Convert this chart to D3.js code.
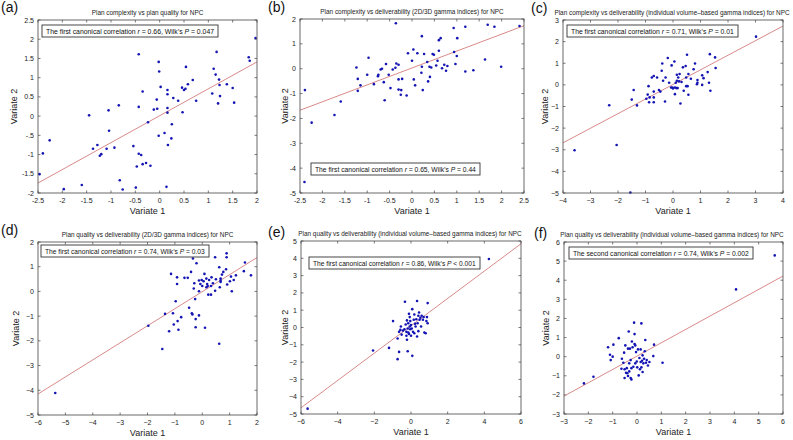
<!DOCTYPE html>
<html>
<head>
<meta charset="utf-8">
<script src="https://cdn.jsdelivr.net/npm/d3@7"></script>
<style>
body { margin: 0; background: #fff; }
svg { display: block; font-family: "Liberation Sans", Arial, sans-serif; }
.tick-label { font-size: 7px; fill: #222; }
.ttl { font-size: 6.4px; fill: #222; }
.axlab { font-size: 9px; fill: #222; }
.plab { font-size: 14px; fill: #111; }
.note { font-size: 6.8px; fill: #111; }
</style>
</head>
<body>
<svg id="chart" width="793" height="440"></svg>
<script>
// (a) plan complexity vs plan quality
var aX = [-2.47,-2.40,-2.26,-1.97,-1.60,-1.45,-1.37,-1.28,-1.23,-1.20,-1.09,-1.05,-1.04,-0.93,-0.84,-0.82,-0.76,-0.54,-0.49,-0.47,-0.43,-0.43,-0.43,-0.38,-0.35,-0.35,-0.28,-0.24,-0.19,-0.12,-0.06,-0.05,-0.02,-0.02,-0.01,0.02,0.10,0.14,0.16,0.16,0.16,0.16,0.17,0.24,0.25,0.28,0.38,0.46,0.47,0.50,0.53,0.54,0.58,0.68,0.75,1.08,1.11,1.15,1.17,1.20,1.22,1.23,1.24,1.38,1.50,1.53,1.83,1.85,1.97];
var aY = [-1.51,-0.97,-0.63,-1.90,-1.79,0.02,-0.85,-0.75,-1.03,-0.99,-0.85,0.15,-0.38,-0.82,0.28,-1.67,-1.91,-0.78,-1.86,-1.31,1.61,0.24,-0.98,-1.01,0.64,-1.25,-1.22,-0.16,-1.29,0.17,0.43,0.19,1.41,-0.51,1.16,0.76,-0.44,-1.84,0.68,0.57,0.21,0.09,-0.75,-0.58,-0.21,0.47,0.40,0.74,0.10,0.68,0.71,1.28,0.83,0.94,0.40,0.59,1.23,1.08,1.67,0.33,0.95,0.81,0.52,0.83,0.73,0.35,1.53,1.44,2.03];

// (b) plan complexity vs deliverability (2D/3D gamma)
var bX = [-2.39,-2.40,-2.24,-1.73,-1.59,-1.24,-1.21,-1.21,-1.15,-1.00,-0.97,-0.85,-0.76,-0.75,-0.70,-0.67,-0.63,-0.61,-0.58,-0.52,-0.48,-0.43,-0.37,-0.36,-0.35,-0.30,-0.30,-0.30,-0.25,-0.24,-0.22,-0.12,-0.09,0.00,0.03,0.04,0.07,0.12,0.21,0.22,0.22,0.24,0.27,0.34,0.36,0.39,0.40,0.43,0.46,0.49,0.54,0.57,0.60,0.60,0.64,0.67,0.72,0.76,0.79,0.93,0.94,0.97,1.00,1.01,1.19,1.19,1.37,1.63,1.69,1.84,1.99,2.40];
var bY = [-0.86,-4.56,-2.17,-1.86,-1.32,0.05,-0.41,-0.89,-0.67,-0.24,0.44,-0.62,-0.30,-0.24,-0.03,0.00,-0.54,-1.27,0.19,-0.24,-0.78,-0.03,0.04,1.83,0.21,0.16,-0.43,-0.84,-1.05,-0.86,-0.41,-1.08,0.62,0.32,0.77,-0.43,-0.67,0.62,-0.16,1.31,0.08,-0.86,0.59,0.27,-0.51,0.08,-0.33,0.05,0.59,0.56,0.13,0.32,0.72,1.15,1.23,0.02,0.16,-0.08,0.11,1.64,0.67,0.19,0.51,1.23,1.69,-0.11,-0.06,0.37,1.77,1.69,0.08,1.72];

// (c) plan complexity vs deliverability (volume-based gamma)
var cX = [-3.58,-2.32,-2.05,-1.55,-1.50,-1.43,-1.31,-0.97,-0.92,-0.89,-0.87,-0.85,-0.77,-0.70,-0.70,-0.70,-0.70,-0.58,-0.51,-0.46,-0.41,-0.39,-0.36,-0.29,-0.27,-0.19,-0.14,-0.07,-0.05,-0.02,0.00,0.05,0.07,0.07,0.10,0.12,0.14,0.14,0.17,0.19,0.22,0.24,0.27,0.31,0.36,0.39,0.46,0.48,0.48,0.51,0.53,0.56,0.56,0.65,0.75,0.80,0.87,0.89,0.89,1.06,1.06,1.11,1.26,1.31,1.34,1.36,1.53,1.55,3.02];
var cY = [-3.02,-0.94,-2.78,-4.98,-0.68,-0.24,-0.95,-0.64,-0.45,-0.06,-0.80,-0.58,0.34,0.41,-0.31,-0.58,-0.80,0.34,-0.24,-0.31,0.65,0.99,0.19,-0.77,0.34,1.24,0.10,-0.12,0.90,-0.12,-0.17,1.08,-0.12,-0.43,0.10,-0.15,0.47,0.19,-0.15,0.34,0.16,0.50,-0.86,0.13,0.81,-0.27,0.87,0.34,-0.06,1.39,-0.06,-0.46,0.50,0.28,0.72,0.99,0.03,0.22,0.10,0.44,0.00,0.31,0.59,0.10,1.42,-0.27,1.27,0.78,2.23];

// (d) plan quality vs deliverability (2D/3D gamma)
var dX = [-5.37,-1.97,-1.46,-1.36,-1.21,-1.14,-1.07,-1.04,-0.97,-0.92,-0.92,-0.90,-0.87,-0.77,-0.65,-0.53,-0.48,-0.41,-0.38,-0.36,-0.34,-0.31,-0.29,-0.26,-0.24,-0.24,-0.21,-0.12,-0.12,-0.12,-0.07,-0.02,0.00,0.05,0.08,0.10,0.15,0.15,0.18,0.20,0.22,0.25,0.32,0.32,0.34,0.39,0.47,0.47,0.50,0.62,0.62,0.64,0.67,0.67,0.67,0.72,0.77,0.87,0.89,0.89,0.91,1.01,1.05,1.08,1.15,1.23,1.52,1.56,1.78];
var dY = [-4.11,-1.39,-2.33,-0.91,-1.61,0.71,-0.88,-1.34,-0.40,0.57,0.30,-1.20,-1.55,-1.04,0.55,0.55,-0.66,0.79,-0.88,-0.93,1.33,0.12,0.33,-0.31,-1.12,-1.45,1.14,-0.97,0.01,0.44,0.30,0.46,0.22,0.41,0.71,-1.47,0.52,0.17,0.30,0.22,-0.13,0.46,-0.13,0.22,0.57,0.33,1.38,0.03,0.49,-2.12,0.98,0.17,0.52,0.44,0.38,0.68,0.79,0.90,1.38,1.54,0.28,0.41,0.60,0.01,0.46,0.65,0.82,1.17,0.65];

// (e) plan quality vs deliverability (volume-based gamma)
var eX = [-5.64,-2.07,-1.20,-0.98,-0.73,-0.73,-0.65,-0.65,-0.58,-0.55,-0.51,-0.44,-0.36,-0.33,-0.29,-0.25,-0.25,-0.22,-0.22,-0.18,-0.18,-0.15,-0.15,-0.11,-0.11,-0.07,-0.07,-0.04,-0.04,0.00,0.00,0.04,0.07,0.07,0.11,0.15,0.18,0.18,0.22,0.25,0.29,0.33,0.33,0.36,0.40,0.40,0.44,0.47,0.51,0.55,0.58,0.65,0.69,0.73,0.80,0.84,0.87,0.91,0.91,4.25];
var eY = [-4.69,-1.33,-1.18,0.37,-0.64,-1.83,-1.41,-0.25,-0.14,0.06,-0.41,-0.18,-0.10,1.49,0.17,-0.25,-0.48,0.41,-0.71,-1.37,-0.06,0.25,-0.29,0.79,-0.37,0.60,0.06,0.37,-0.10,0.14,-0.48,-0.06,-1.64,1.06,-0.25,0.45,0.75,-0.33,0.21,0.06,0.48,1.53,-0.52,0.25,0.68,-0.21,0.87,0.45,0.56,0.06,0.68,0.45,0.60,-0.29,-0.33,0.37,0.60,1.41,0.25,3.96];

// (f) plan quality vs deliverability, second canonical variate
var fX = [-2.18,-1.79,-1.19,-1.11,-1.08,-1.00,-0.97,-0.75,-0.64,-0.62,-0.56,-0.53,-0.51,-0.51,-0.48,-0.45,-0.42,-0.40,-0.37,-0.37,-0.34,-0.32,-0.32,-0.29,-0.26,-0.26,-0.23,-0.23,-0.21,-0.18,-0.15,-0.12,-0.10,-0.10,-0.07,-0.07,-0.04,-0.01,0.01,0.04,0.07,0.10,0.12,0.15,0.15,0.18,0.18,0.21,0.23,0.23,0.26,0.29,0.32,0.34,0.37,0.40,0.45,0.51,0.67,0.70,1.05,4.07,5.66];
var fY = [-1.40,-1.05,0.49,0.10,-0.18,0.00,0.63,0.97,-0.63,-0.11,-0.32,0.21,-0.66,-1.12,0.59,-0.84,-0.60,-0.87,0.42,-1.01,1.32,-0.35,-0.77,0.42,-0.18,-1.12,-0.60,-1.19,0.79,0.49,-0.53,1.78,1.18,0.66,0.59,-0.35,0.24,-0.25,-0.56,0.38,-0.98,-0.07,-0.66,0.38,-0.28,1.74,-0.56,-0.21,-0.80,0.07,-0.35,-0.11,0.28,0.87,-0.32,-0.18,-0.46,-0.28,0.03,0.63,-0.32,3.52,5.30];

// fitted lines (slope, intercept) per panel
var fitSlope = [0.70, 0.68, 0.675, 0.69, 0.79, 0.698];
var fitIntercept = [0.01, 0.03, 0.02, -0.01, 0.10, 0.03];

var labels = ["(a)", "(b)", "(c)", "(d)", "(e)", "(f)"];
var titles = [
    "Plan complexity vs  plan quality for NPC",
    "Plan complexity vs  deliverability (2D/3D gamma indices) for NPC",
    "Plan complexity vs deliverability (individual volume\u2013based gamma indices) for NPC",
    "Plan quality vs  deliverability (2D/3D gamma indices) for NPC",
    "Plan quality vs  deliverability (individual volume\u2013based gamma indices) for NPC",
    "Plan quality vs  deliverability (individual volume\u2013based gamma indices) for NPC"
];
var notes = [
    ["The first canonical correlation ", "r", " = 0.66, Wilk\u2019s ", "P", " = 0.047"],
    ["The first canonical correlation ", "r", " = 0.65, Wilk\u2019s ", "P", " = 0.44"],
    ["The first canonical correlation ", "r", " = 0.71, Wilk\u2019s ", "P", " = 0.01"],
    ["The first canonical correlation ", "r", " = 0.74, Wilk\u2019s ", "P", " = 0.03"],
    ["The first canonical correlation ", "r", " = 0.86, Wilk\u2019s ", "P", " < 0.001"],
    ["The second canonical correlation ", "r", " = 0.74, Wilk\u2019s ", "P", " = 0.002"]
];
var xDomains = [[-2.5, 2], [-2.5, 2.5], [-4, 4], [-6, 2], [-6, 6], [-3, 6]];
var yDomains = [[-2, 2.5], [-5, 2], [-5, 3], [-5, 2], [-5, 5], [-3, 6]];
var xSteps = [0.5, 0.5, 1, 1, 2, 1];
var ySteps = [0.5, 1, 1, 1, 1, 1];

var series = [[aX, aY], [bX, bY], [cX, cY], [dX, dY], [eX, eY], [fX, fY]];

// layout: plot box, note box, label positions
var boxes = [
    {l: 38, r: 257, t: 20, b: 193, nx: 42, ny: 25, nw: 176, ylx: 14, px: 1, py: 12, hy: "hyph"},
    {l: 300, r: 524, t: 19, b: 193, nx: 311, ny: 163, nw: 169, ylx: 285, px: 268, py: 12, hy: "hyph"},
    {l: 563, r: 783, t: 20, b: 193, nx: 567, ny: 25, nw: 171, ylx: 545, px: 531, py: 13},
    {l: 38, r: 257, t: 242, b: 415, nx: 41, ny: 245, nw: 168, ylx: 16, px: 1, py: 235},
    {l: 301, r: 521, t: 241, b: 414, nx: 309, ny: 257, nw: 171, ylx: 285, px: 268, py: 237},
    {l: 564, r: 783, t: 242, b: 414, nx: 569, ny: 247, nw: 184, ylx: 546, px: 534, py: 238}
];

var svg = d3.select("#chart");

function fmt(v, hy) {
    var s = d3.format("")(+v.toFixed(2));
    return hy ? s.replace("\u2212", "-") : s;
}

boxes.forEach(function(bx, i) {
    var g = svg.append("g");
    var x = d3.scaleLinear().domain(xDomains[i]).range([bx.l, bx.r]);
    var y = d3.scaleLinear().domain(yDomains[i]).range([bx.b, bx.t]);
    var xt = d3.range(xDomains[i][0], xDomains[i][1] + 1e-9, xSteps[i]);
    var yt = d3.range(yDomains[i][0], yDomains[i][1] + 1e-9, ySteps[i]);

    g.append("rect")
        .attr("x", bx.l).attr("y", bx.t)
        .attr("width", bx.r - bx.l).attr("height", bx.b - bx.t)
        .attr("fill", "#fff");

    //inward ticks on all four sides
    var tk = 2.5;
    xt.forEach(function(v) {
        g.append("line").attr("x1", x(v)).attr("x2", x(v)).attr("y1", bx.b).attr("y2", bx.b - tk).attr("stroke", "#444").attr("stroke-width", 0.7);
        g.append("line").attr("x1", x(v)).attr("x2", x(v)).attr("y1", bx.t).attr("y2", bx.t + tk).attr("stroke", "#444").attr("stroke-width", 0.7);
        g.append("text").attr("class", "tick-label")
            .attr("x", x(v)).attr("y", bx.b + 10)
            .attr("text-anchor", "middle")
            .text(fmt(v, bx.hy));
    });
    yt.forEach(function(v) {
        g.append("line").attr("y1", y(v)).attr("y2", y(v)).attr("x1", bx.l).attr("x2", bx.l + tk).attr("stroke", "#444").attr("stroke-width", 0.7);
        g.append("line").attr("y1", y(v)).attr("y2", y(v)).attr("x1", bx.r).attr("x2", bx.r - tk).attr("stroke", "#444").attr("stroke-width", 0.7);
        var s = fmt(v, bx.hy);
        if (i === 0 && v === -0.5) s = "-.5";
        g.append("text").attr("class", "tick-label")
            .attr("x", bx.l - 4).attr("y", y(v) + 2.5)
            .attr("text-anchor", "end")
            .text(s);
    });

    //fitted line over the full x range
    var xs = xDomains[i];
    var yLo = fitSlope[i] * xs[0] + fitIntercept[i];
    var yHi = fitSlope[i] * xs[1] + fitIntercept[i];
    g.append("line")
        .attr("x1", x(xs[0])).attr("y1", y(yLo))
        .attr("x2", x(xs[1])).attr("y2", y(yHi))
        .attr("stroke", "#d98a8a").attr("stroke-width", 1);

    var px = series[i][0], py = series[i][1];
    g.selectAll(".pt").data(px).enter()
        .append("circle")
        .attr("class", "pt")
        .attr("cx", d => x(d))
        .attr("cy", (d, j) => y(py[j]))
        .attr("r", 1.3)
        .attr("fill", "#1414b4");

    g.append("rect")
        .attr("x", bx.l).attr("y", bx.t)
        .attr("width", bx.r - bx.l).attr("height", bx.b - bx.t)
        .attr("fill", "none").attr("stroke", "#444").attr("stroke-width", 0.8);

    //note box, font shrunk to fit the box width
    g.append("rect")
        .attr("x", bx.nx).attr("y", bx.ny)
        .attr("width", bx.nw).attr("height", 12)
        .attr("fill", "#fff").attr("stroke", "#333").attr("stroke-width", 0.9);
    var nt = g.append("text").attr("class", "note")
        .attr("x", bx.nx + 4).attr("y", bx.ny + 8.5);
    notes[i].forEach(function(part, k) {
        nt.append("tspan").attr("font-style", k % 2 ? "italic" : "normal").text(part);
    });
    var w = nt.node().getComputedTextLength();
    nt.style("font-size", (6.8 * (bx.nw - 8) / w) + "px");

    //titles and labels
    svg.append("text").attr("class", "ttl")
        .attr("x", i === 2 || i === 5 ? 672 : (bx.l + bx.r) / 2 + (i === 4 ? -1 : 0))
        .attr("y", bx.t - 5)
        .attr("text-anchor", "middle")
        .text(titles[i]);
    svg.append("text").attr("class", "axlab")
        .attr("x", (bx.l + bx.r) / 2).attr("y", bx.b + 21)
        .attr("text-anchor", "middle")
        .text("Variate 1");
    svg.append("text").attr("class", "axlab")
        .attr("transform", "translate(" + (bx.ylx + 3) + "," + ((bx.t + bx.b) / 2) + ") rotate(-90)")
        .attr("text-anchor", "middle")
        .text("Variate 2");
    svg.append("text").attr("class", "plab")
        .attr("x", bx.px).attr("y", bx.py)
        .text(labels[i]);
});
</script>
</body>
</html>
